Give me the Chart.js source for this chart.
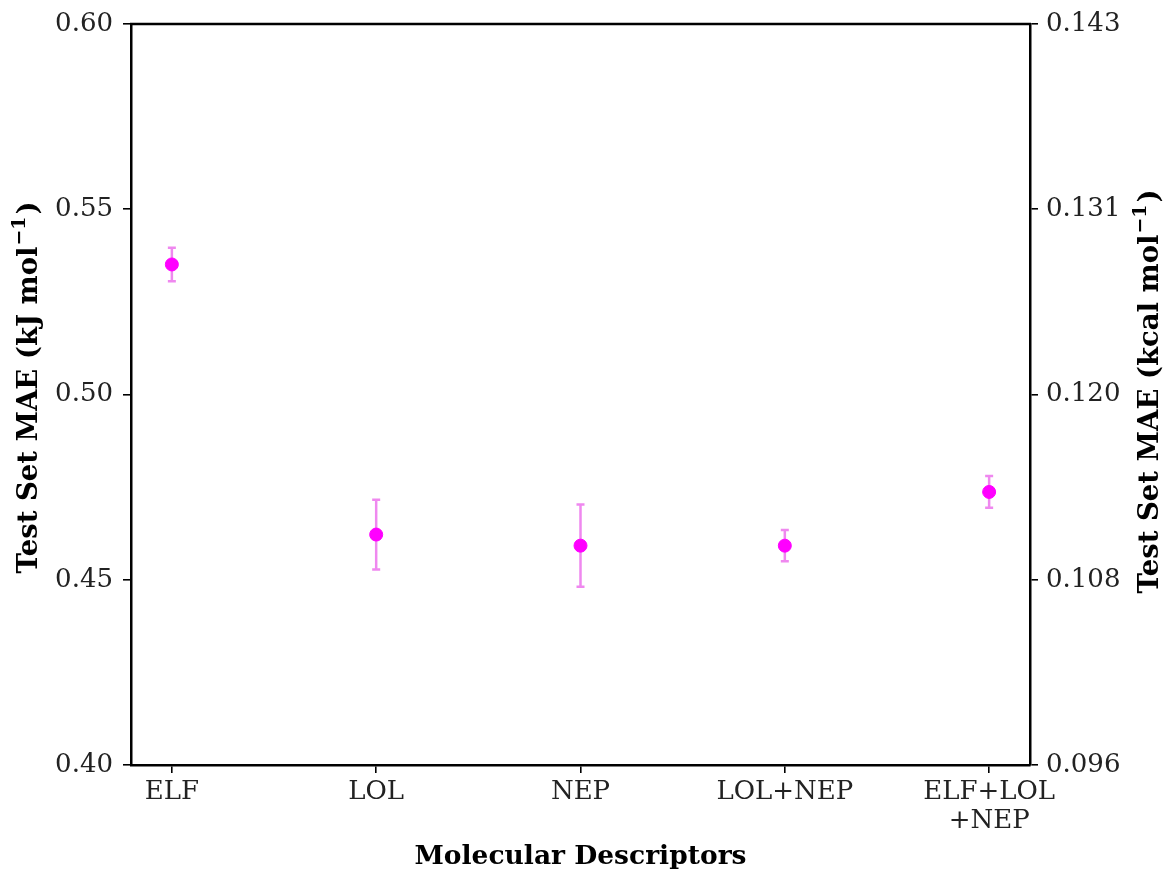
<!DOCTYPE html>
<html>
<head>
<meta charset="utf-8">
<script src="https://cdn.jsdelivr.net/npm/chart.js@4.4.0/dist/chart.umd.min.js"></script>
<style>
  html, body { margin: 0; padding: 0; background: #fff; }
  #wrap { width: 1164px; height: 873px; }
</style>
</head>
<body>
<div id="wrap"><canvas id="chart" width="1164" height="873"></canvas></div>
<script>
const categories = ['ELF', 'LOL', 'NEP', 'LOL+NEP', ['ELF+LOL', '+NEP']];
const maeValues = [0.5351, 0.4622, 0.4592, 0.4592, 0.4737];
const maeErrors = [0.0045, 0.0094, 0.0111, 0.0042, 0.0043];
const leftTicks = [0.40, 0.45, 0.50, 0.55, 0.60];
const rightTickLabels = ['0.096', '0.108', '0.120', '0.131', '0.143'];

const FONT = "'DejaVu Serif', serif";

const points = maeValues.map((v, i) => ({ x: i, y: v }));

// error bars drawn under the markers
const errorBars = {
    id: 'errorBars',
    beforeDatasetsDraw(chart) {
        const { ctx, scales } = chart;
        ctx.save();
        ctx.strokeStyle = 'rgba(238, 130, 238, 0.95)';
        ctx.lineWidth = 2.5;
        maeValues.forEach((v, i) => {
            const x = scales.x.getPixelForValue(i);
            const top = scales.y.getPixelForValue(v + maeErrors[i]);
            const bot = scales.y.getPixelForValue(v - maeErrors[i]);
            ctx.beginPath();
            ctx.moveTo(x, top); ctx.lineTo(x, bot);
            ctx.moveTo(x - 4, top); ctx.lineTo(x + 4, top);
            ctx.moveTo(x - 4, bot); ctx.lineTo(x + 4, bot);
            ctx.stroke();
        });
        ctx.restore();
    }
};

// draws a rotated axis title with a raised "-1" exponent
function drawRotatedTitle(ctx, cx, cy, base, tail) {
    ctx.save();
    ctx.translate(cx, cy);
    ctx.rotate(-Math.PI / 2);
    ctx.fillStyle = '#000';
    ctx.textBaseline = 'middle';
    ctx.textAlign = 'left';
    const bigFont = "bold 27.5px " + FONT;
    const supFont = "bold 19px " + FONT;
    ctx.font = bigFont;
    const wBase = ctx.measureText(base).width;
    const wTail = ctx.measureText(tail).width;
    ctx.font = supFont;
    const wSup = ctx.measureText('\u22121').width + 2;
    let x = -(wBase + wSup + wTail) / 2;
    ctx.font = bigFont;
    ctx.fillText(base, x, 0);
    x += wBase + 1;
    ctx.font = supFont;
    ctx.fillText('\u22121', x, -10);
    x += wSup;
    ctx.font = bigFont;
    ctx.fillText(tail, x, 0);
    ctx.restore();
}

// top spine and both y axis titles (both read bottom to top)
const frame = {
    id: 'frame',
    afterDraw(chart) {
        const { ctx, chartArea } = chart;
        ctx.save();
        ctx.strokeStyle = '#000';
        ctx.lineWidth = 2.5;
        ctx.beginPath();
        ctx.moveTo(chartArea.left - 1, chartArea.top);
        ctx.lineTo(chartArea.right + 1, chartArea.top);
        ctx.stroke();
        ctx.restore();
        drawRotatedTitle(ctx, 30, 388, 'Test Set MAE (kJ mol', ')');
        drawRotatedTitle(ctx, 1151, 392, 'Test Set MAE (kcal mol', ')');
    }
};

const tickGrid = {
    drawOnChartArea: false,
    drawTicks: true,
    tickLength: 8,
    color: '#000',
    lineWidth: 1.6
};

new Chart(document.getElementById('chart'), {
    type: 'scatter',
    data: {
        datasets: [{
            data: points,
            backgroundColor: '#ff00ff',
            borderColor: '#ff00ff',
            pointRadius: 6.5,
            pointHoverRadius: 6.5
        }]
    },
    options: {
        responsive: false,
        animation: false,
        layout: { padding: { top: 24, left: 0, right: 0, bottom: 0 } },
        plugins: { legend: { display: false }, tooltip: { enabled: false } },
        scales: {
            x: {
                type: 'linear',
                min: -0.2,
                max: 4.2,
                afterBuildTicks: (s) => { s.ticks = categories.map((c, i) => ({ value: i })); },
                afterFit: (s) => { s.height = 108; },
                grid: tickGrid,
                border: { color: '#000', width: 2.5 },
                ticks: {
                    color: '#222',
                    font: { family: FONT, size: 26, lineHeight: 1.1 },
                    padding: 5,
                    maxRotation: 0,
                    autoSkip: false,
                    callback: (v) => categories[v]
                },
                title: {
                    display: true,
                    text: 'Molecular Descriptors',
                    color: '#000',
                    font: { family: FONT, size: 26.5, weight: 'bold' },
                    padding: { top: 0, bottom: 0 }
                }
            },
            y: {
                position: 'left',
                min: 0.40,
                max: 0.60,
                afterBuildTicks: (s) => { s.ticks = leftTicks.map(v => ({ value: v })); },
                afterFit: (s) => { s.width = 131; },
                grid: tickGrid,
                border: { color: '#000', width: 2.5 },
                ticks: {
                    color: '#222',
                    font: { family: FONT, size: 26, lineHeight: 1.0 },
                    padding: 10,
                    callback: (v) => v.toFixed(2)
                }
            },
            y2: {
                position: 'right',
                min: 0.40,
                max: 0.60,
                afterBuildTicks: (s) => { s.ticks = leftTicks.map(v => ({ value: v })); },
                afterFit: (s) => { s.width = 134; },
                grid: tickGrid,
                border: { color: '#000', width: 2.5 },
                ticks: {
                    color: '#222',
                    font: { family: FONT, size: 26, lineHeight: 1.0 },
                    padding: 8,
                    callback: (v) => rightTickLabels[leftTicks.findIndex(t => Math.abs(t - v) < 1e-6)]
                }
            }
        }
    },
    plugins: [errorBars, frame]
});
</script>
</body>
</html>
